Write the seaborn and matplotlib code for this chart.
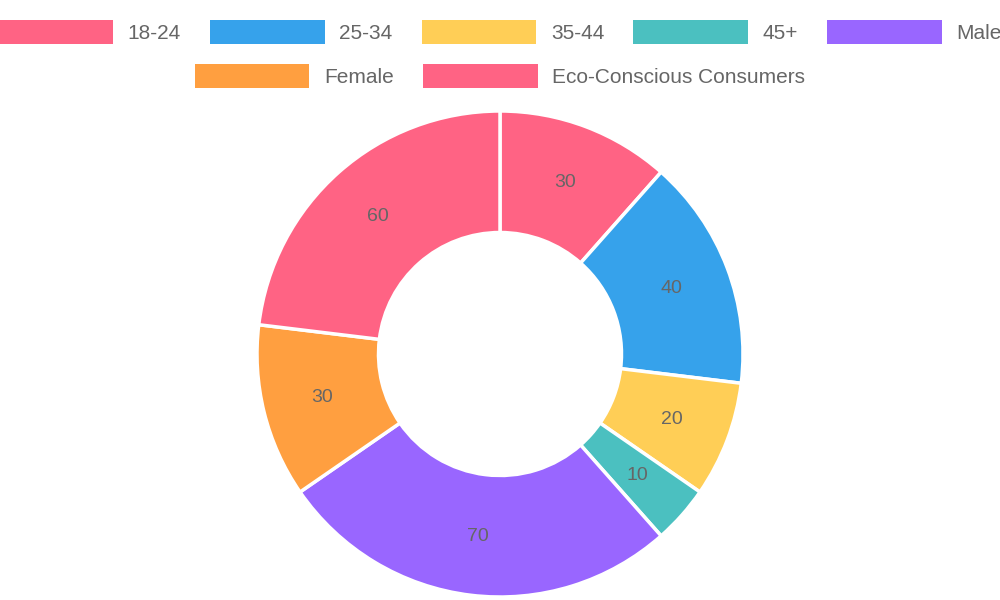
import matplotlib
matplotlib.use("Agg")
import matplotlib.pyplot as plt
import seaborn as sns
from matplotlib.patches import Patch

labels = ["18-24", "25-34", "35-44", "45+", "Male", "Female", "Eco-Conscious Consumers"]
values = [30, 40, 20, 10, 70, 30, 60]
colors = ["#FF6384", "#36A2EB", "#FFCE56", "#4BC0C0", "#9966FF", "#FF9F40", "#FF6384"]

sns.set_theme(style="white")
plt.rcParams['font.family'] = ['Liberation Sans', 'DejaVu Sans']

fig = plt.figure(figsize=(10, 6), dpi=100)
ax = fig.add_axes([0.257, 0.005, 0.486, 0.81])
wedges, texts = ax.pie(values, colors=colors, startangle=90, counterclock=False,
                       radius=1.0, wedgeprops=dict(width=0.5, edgecolor="white", linewidth=2.5))
import numpy as np
total = sum(values)
cum = 0
for v in values:
    mid = 90 - (cum + v / 2) / total * 360
    cum += v
    r = 0.755
    ax.text(r * np.cos(np.radians(mid)), r * np.sin(np.radians(mid)), str(v),
            ha="center", va="center", fontsize=14, color="#666666")
ax.set_xlim(-1, 1); ax.set_ylim(-1, 1); ax.set_aspect("equal"); ax.axis("off")

handles = [Patch(facecolor=c, edgecolor="none") for c in colors]
kw = dict(frameon=False, handlelength=5.5, handleheight=1.4, handletextpad=0.7,
          columnspacing=1.4, prop={'size': 15}, labelcolor="#666666")
fig.legend(handles[:5], labels[:5], ncol=5, loc="center", bbox_to_anchor=(0.5, 0.947), **kw)
fig.legend(handles[5:], labels[5:], ncol=2, loc="center", bbox_to_anchor=(0.5, 0.874), **kw)
fig.savefig("out.png", dpi=100, facecolor="white")
